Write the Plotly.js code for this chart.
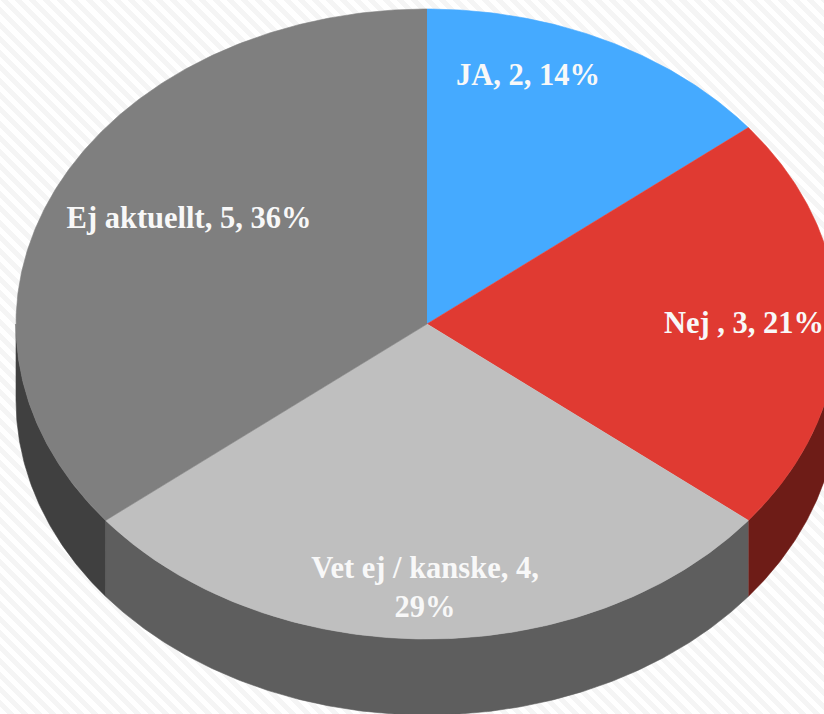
<!DOCTYPE html>
<html>
<head>
<meta charset="utf-8">
<script src="https://cdn.plot.ly/plotly-3.0.1.min.js"></script>
<style>
html,body{margin:0;padding:0;width:824px;height:714px;overflow:hidden;
background:repeating-linear-gradient(45deg,#ffffff 0 5px,#f5f5f5 5px 10px);}
#chart{width:824px;height:714px;}
</style>
</head>
<body>
<div id="chart"></div>
<script>
const categories = ["JA", "Nej ", "Vet ej / kanske", "Ej aktuellt"];
const values = [2, 3, 4, 5];
const topColors = ["#45aaff", "#e03a32", "#bfbfbf", "#7f7f7f"];
const sideColors = ["#1f5f99", "#6e1c17", "#5e5e5e", "#404040"];
const labelX = [101, 317, -2, -238];
const labelY = [247, -1, -266, 104];
const labelBreaks = [false, false, true, false];

const RX = 411, RY = 315, DEPTH = 76;
const total = values.reduce((a, b) => a + b, 0);
const pt = (deg, drop) => {
  const r = deg * Math.PI / 180;
  return [RX * Math.sin(r), RY * Math.cos(r) - (drop || 0)];
};
const traces = [];
let start = 0;
const spans = values.map(v => { const s = [start, start + v / total * 360]; start = s[1]; return s; });

function arc(a, b, drop) {
  const out = [];
  const n = Math.max(2, Math.ceil((b - a) * 2));
  for (let i = 0; i <= n; i++) out.push(pt(a + (b - a) * i / n, drop));
  return out;
}
function poly(points, color) {
  traces.push({
    type: "scatter", mode: "lines", fill: "toself", fillcolor: color,
    x: points.map(p => p[0]), y: points.map(p => p[1]),
    line: {color: color, width: 0.6}, hoverinfo: "skip", showlegend: false
  });
}
// outer walls: only the front half (90 to 270 degrees clockwise from the top)
spans.forEach((s, i) => {
  const a = Math.max(s[0], 90), b = Math.min(s[1], 270);
  if (b > a) poly(arc(a, b, 0).concat(arc(a, b, DEPTH).reverse()), sideColors[i]);
});
// top faces
spans.forEach((s, i) => poly([[0, 0]].concat(arc(s[0], s[1], 0)), topColors[i]));

// labels
traces.push({
  type: "scatter", mode: "text", x: labelX, y: labelY,
  text: categories.map((c, i) => c + ", " + values[i] + "," + (labelBreaks[i] ? "<br>" : " ") + Math.round(values[i] / total * 100) + "%"),
  textposition: "middle center",
  textfont: {family: "Liberation Serif, serif", size: 30.5, color: "#f8f8f8", weight: 700},
  hoverinfo: "skip", showlegend: false, cliponaxis: false
});

Plotly.newPlot("chart", traces, {
  width: 824, height: 714,
  margin: {l: 0, r: 0, t: 0, b: 0},
  paper_bgcolor: "rgba(0,0,0,0)", plot_bgcolor: "rgba(0,0,0,0)",
  xaxis: {range: [-427, 397], visible: false, fixedrange: true},
  yaxis: {range: [-390, 324], visible: false, fixedrange: true},
  showlegend: false
}, {displayModeBar: false, staticPlot: true});
</script>
</body>
</html>
